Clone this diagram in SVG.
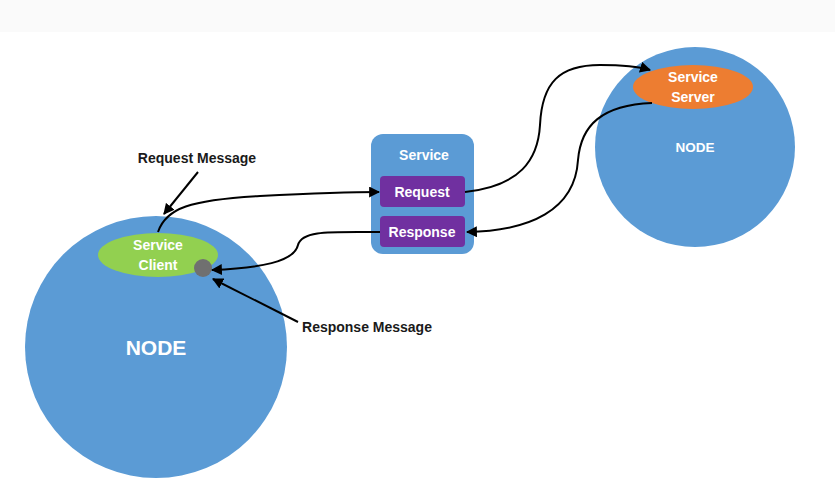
<svg xmlns="http://www.w3.org/2000/svg" width="835" height="501" viewBox="0 0 835 501">
<defs>
<style>
.node{fill:#5b9bd5}
.wt{fill:#fff;font-family:"Liberation Sans",Arial,sans-serif;font-weight:bold;text-anchor:middle}
.bt{fill:#1a1a1a;font-family:"Liberation Sans",Arial,sans-serif;font-weight:bold;font-size:14px;text-anchor:middle}
.con{fill:none;stroke:#000;stroke-width:2}
.box{fill:#7030a0}
</style>
<marker id="ah" viewBox="0 0 10 10" refX="9" refY="5" markerWidth="5.5" markerHeight="5.5" orient="auto" markerUnits="strokeWidth">
<path d="M0,0 L10,5 L0,10 z" fill="#000"/>
</marker>
</defs>
<rect x="0" y="0" width="835" height="501" fill="#fff"/>
<rect x="0" y="0" width="835" height="32" fill="#fafafa"/>
<g id="node-left">
<circle class="node" cx="156" cy="347" r="131"/>
<text class="wt" x="156" y="355" font-size="21">NODE</text>
</g>
<g id="node-right">
<circle class="node" cx="695" cy="147" r="100"/>
<text class="wt" x="695" y="152" font-size="13.5">NODE</text>
</g>
<g id="service-client">
<ellipse cx="158" cy="255" rx="60" ry="22" fill="#92d050"/>
<text class="wt" x="158" y="250" font-size="14">Service</text>
<text class="wt" x="158" y="270" font-size="14">Client</text>
</g>
<g id="response-port">
<circle cx="203" cy="268" r="9" fill="#707070"/>
</g>
<g id="service-server">
<ellipse cx="693" cy="87" rx="60" ry="22" fill="#ed7d31"/>
<text class="wt" x="693" y="82" font-size="14">Service</text>
<text class="wt" x="693" y="102" font-size="14">Server</text>
</g>
<g id="service">
<rect x="371" y="134" width="103" height="120" rx="12" fill="#5b9bd5"/>
<text class="wt" x="424" y="160" font-size="14">Service</text>
<g id="request">
<rect class="box" x="380" y="176" width="85" height="31" rx="4"/>
<text class="wt" x="422" y="197" font-size="14">Request</text>
</g>
<g id="response">
<rect class="box" x="380" y="216" width="85" height="31" rx="4"/>
<text class="wt" x="422" y="237" font-size="14">Response</text>
</g>
</g>
<g id="label-request">
<text class="bt" x="197" y="163">Request Message</text>
</g>
<g id="label-response">
<text class="bt" x="367" y="332">Response Message</text>
</g>
<g id="connectors">
<path class="con" marker-end="url(#ah)" d="M198,172 L164,214"/>
<path class="con" marker-end="url(#ah)" d="M298,322 L213,279"/>
<path class="con" marker-end="url(#ah)" d="M158,232 C166,208 190,200 260,196 C320,193 360,192 379,192"/>
<path class="con" marker-end="url(#ah)" d="M380,232 C330,232 302,230 298,245 C294,262 260,268 212,270"/>
<path class="con" marker-end="url(#ah)" d="M465,192 C520,186 538,160 540,125 C542,82 560,65 600,65 C625,65 640,67 650,70"/>
<path class="con" marker-end="url(#ah)" d="M652,103 C602,105 581,125 578,160 C575,210 530,231 467,232"/>
</g>
</svg>
